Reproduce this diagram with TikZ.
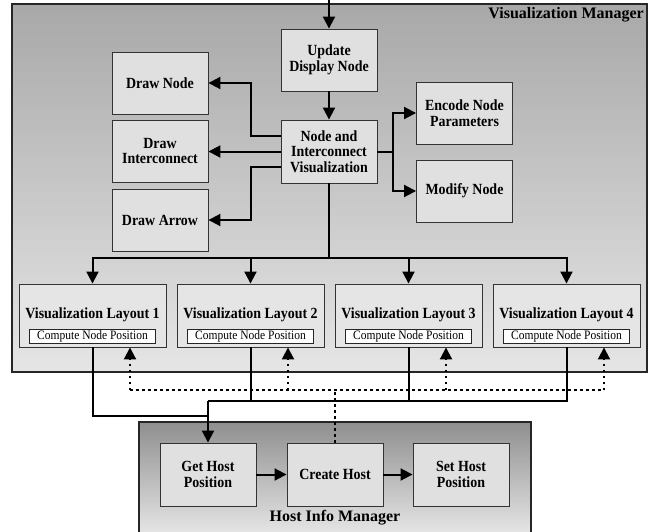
\documentclass[tikz,border=0pt]{standalone}
\usepackage{fontspec}
\setmainfont{Liberation Serif}
\newfontfamily\narrowserif[FakeStretch=0.9]{Liberation Serif}
\usetikzlibrary{arrows.meta}
\begin{document}
\begin{tikzpicture}[x=1pt,y=-1pt,
  box/.style={draw=black!80, line width=0.9pt, fill=black!12, minimum width=96pt, minimum height=62pt,
    align=center, inner sep=0pt, font=\narrowserif\fontsize{15.5}{15.5}\selectfont\bfseries},
  laybox/.style={draw=black!80, line width=0.9pt, fill=black!10, minimum width=147pt, minimum height=63pt, inner sep=0pt},
  laytitle/.style={font=\narrowserif\fontsize{15.5}{15.5}\selectfont\bfseries, inner sep=0pt},
  cnp/.style={draw=black!85, line width=0.8pt, fill=white, minimum width=126pt, minimum height=14pt, inner sep=0pt,
    font=\narrowserif\fontsize{12.8}{13}\selectfont},
  mgr/.style={font=\fontsize{16}{17}\selectfont\bfseries, inner sep=0pt},
  conn/.style={line width=2pt, draw=black},
  arr/.style={conn, -{Triangle[length=12pt,width=12pt]}},
  dotln/.style={line width=2pt, dash pattern=on 2.5pt off 3.5pt},
  dotarr/.style={dotln, -{Triangle[length=12pt,width=12pt]}}
]
\useasboundingbox (0,0) rectangle (651,531);
\clip (0,0) rectangle (651,531);

% Visualization Manager container
\shade[top color=black!34, bottom color=black!10] (12,4) rectangle (647,372);
\draw[line width=1.2pt, draw=black!85] (12,4) rectangle (647,372);
\node[mgr, anchor=east] (vmlabel) at (644,15) {Visualization Manager};

% Host Info Manager container
\shade[top color=black!44, bottom color=black!8] (139,422) rectangle (531,540);
\draw[line width=1.2pt, draw=black!85] (139,422) rectangle (531,540);
\node[mgr] (himlabel) at (335,518) {Host Info Manager};

% top boxes
\node[box] (UD) at (329,60) {Update\\Display Node};
\node[box] (DN) at (160,83) {Draw Node};
\node[box] (DI) at (160,151) {Draw\\Interconnect};
\node[box] (DA) at (160,220) {Draw Arrow};
\node[box, minimum height=63pt] (NIV) at (329,151.5) {Node and\\Interconnect\\Visualization};
\node[box] (EN) at (464.5,113) {Encode Node\\Parameters};
\node[box] (MN) at (464.5,191) {Modify Node};

% layouts
\foreach \i/\x in {1/92.5,2/250.5,3/408.5,4/566.5}{
  \node[laybox] (L\i) at (\x,315.5) {};
  \node[laytitle] (LT\i) at (\x,315) {Visualization Layout \i};
  \node[cnp] (C\i) at (\x,336) {Compute Node Position};
}

% host boxes
\node[box, minimum height=63pt] (GHP) at (208,474.5) {Get Host\\Position};
\node[box, minimum height=63pt] (CH) at (335,474.5) {Create Host};
\node[box, minimum height=63pt] (SHP) at (461,474.5) {Set Host\\Position};

% connectors top part
\coordinate (top) at (329,0);
\draw[arr] (top) -- (UD.north);
\draw[arr] (UD.south) -- (NIV.north);
\draw[arr] ([yshift=15.5pt]NIV.west) -- ++(-30,0) |- (DN.east);
\draw[arr] (NIV.west) -- (DN.east |- NIV.west);
\draw[arr] ([yshift=-15.5pt]NIV.west) -- ++(-30,0) |- (DA.east);
\draw[arr] (NIV.east) -- ++(16,0) |- (EN.west);
\draw[arr] (NIV.east) -- ++(16,0) |- (MN.west);

% bus to layouts
\coordinate (bus) at (329,258);
\draw[conn] (NIV.south) -- (bus);
\foreach \i in {1,2,3,4}{ \draw[arr] (bus) -| (L\i.north); }

% layouts to host info manager
\coordinate (j) at (208,401);
\coordinate (k) at (208,416);
\draw[conn] (L4.south) |- (j);
\draw[conn] (L2.south) -- (L2.south |- j);
\draw[conn] (L3.south) -- (L3.south |- j);
\draw[conn] (L1.south) |- (k);
\draw[arr] (j) -- (GHP.north);

% dotted feedback
\coordinate (d1) at (130,390);
\coordinate (d2) at (288,390);
\coordinate (d3) at (446,390);
\coordinate (d4) at (604,390);
\draw[dotln] (d1) -- (d4);
\foreach \i in {1,2,3,4}{ \draw[dotarr] (d\i) -- (d\i |- L\i.south); }
\draw[dotln] (CH.north) -- (CH.north |- d1);

% host chain
\draw[arr] (GHP.east) -- (CH.west);
\draw[arr] (CH.east) -- (SHP.west);
\end{tikzpicture}
\end{document}
